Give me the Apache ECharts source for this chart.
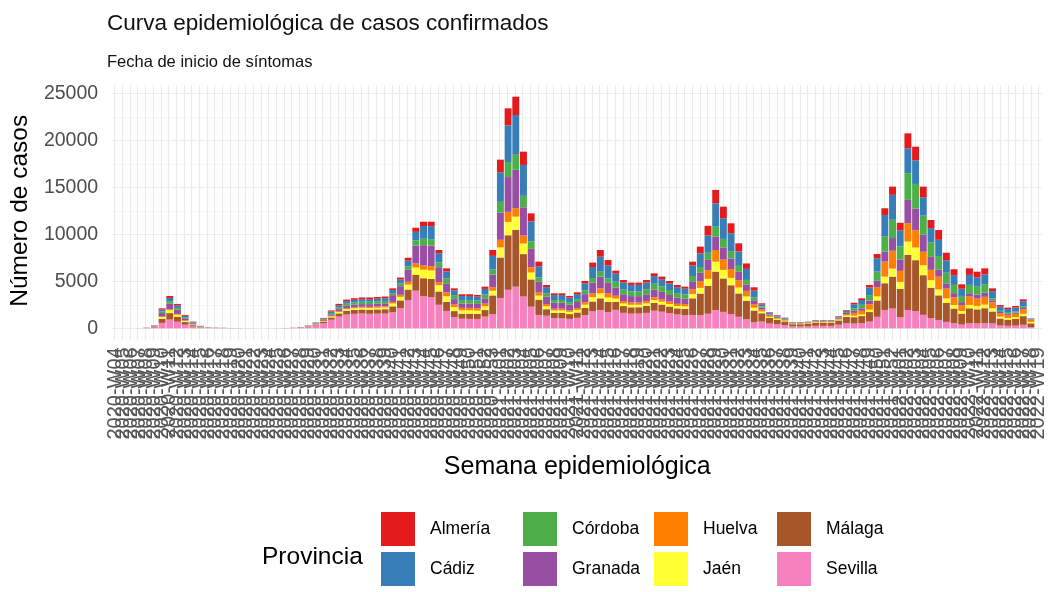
<!DOCTYPE html>
<html><head><meta charset="utf-8">
<script src="https://cdn.jsdelivr.net/npm/echarts@6/dist/echarts.min.js"></script>
<style>html,body{margin:0;padding:0;background:#fff}#chart{width:1051px;height:592px}</style>
</head><body><div id="chart"></div>
<script>
// Epidemiological weeks (categories)
const weeks = [
"2020-W04","2020-W05","2020-W06","2020-W07","2020-W08","2020-W09","2020-W10","2020-W11","2020-W12","2020-W13",
"2020-W14","2020-W15","2020-W16","2020-W17","2020-W18","2020-W19","2020-W20","2020-W21","2020-W22","2020-W23",
"2020-W24","2020-W25","2020-W26","2020-W27","2020-W28","2020-W29","2020-W30","2020-W31","2020-W32","2020-W33",
"2020-W34","2020-W35","2020-W36","2020-W37","2020-W38","2020-W39","2020-W40","2020-W41","2020-W42","2020-W43",
"2020-W44","2020-W45","2020-W46","2020-W47","2020-W48","2020-W49","2020-W50","2020-W51","2020-W52","2020-W53",
"2021-W01","2021-W02","2021-W03","2021-W04","2021-W05","2021-W06","2021-W07","2021-W08","2021-W09","2021-W10",
"2021-W11","2021-W12","2021-W13","2021-W14","2021-W15","2021-W16","2021-W17","2021-W18","2021-W19","2021-W20",
"2021-W21","2021-W22","2021-W23","2021-W24","2021-W25","2021-W26","2021-W27","2021-W28","2021-W29","2021-W30",
"2021-W31","2021-W32","2021-W33","2021-W34","2021-W35","2021-W36","2021-W37","2021-W38","2021-W39","2021-W40",
"2021-W41","2021-W42","2021-W43","2021-W44","2021-W45","2021-W46","2021-W47","2021-W48","2021-W49","2021-W50",
"2021-W51","2021-W52","2022-W01","2022-W02","2022-W03","2022-W04","2022-W05","2022-W06","2022-W07","2022-W08",
"2022-W09","2022-W10","2022-W11","2022-W12","2022-W13","2022-W14","2022-W15","2022-W16","2022-W17","2022-W18",
"2022-W19"];

const yTicks = [0, 5000, 10000, 15000, 20000, 25000];

const sevilla = [0,0,0,6,22,86,575,929,699,381,
192,70,30,22,16,11,8,6,5,3,
5,8,15,30,60,144,298,528,912,1248,
1464,1536,1574,1540,1560,1570,1700,2160,3000,4000,
3400,3300,2500,1850,1190,1014,1000,994,1240,1500,
3229,4100,4430,3382,2300,1420,1337,1079,1060,998,
1111,1410,1800,1950,1708,1962,1645,1555,1570,1640,
1872,1760,1610,1475,1380,1418,1400,1550,1950,1747,
1508,1220,960,640,720,510,425,339,201,195,
210,264,260,255,380,560,500,540,715,1225,
1950,2100,1180,1950,1835,1432,1094,889,683,534,
398,530,512,542,510,298,264,284,370,106,
0];
const malaga = [0,0,0,4,16,64,426,688,518,282,
142,52,22,16,12,8,6,4,3,2,
3,5,7,10,18,39,81,143,247,338,
397,416,426,440,450,460,638,810,1125,1700,
1930,1950,1416,960,638,543,560,532,700,2000,
4306,5800,6030,4510,2900,1630,692,558,570,516,
574,755,1050,1240,1091,858,720,680,670,730,
819,770,704,645,700,1773,2300,2950,4080,3559,
3072,2486,1950,1250,880,595,495,396,235,240,
245,308,315,320,460,660,680,760,1014,1738,
2840,3400,3000,5860,5410,4220,3226,2615,2010,1570,
1170,1600,1505,1595,1275,744,660,711,924,424,
0];
const jaen = [0,0,0,2,7,29,192,310,233,127,
64,23,10,7,5,4,3,2,1,1,
1,2,2,4,7,17,34,60,104,143,
168,176,180,185,183,190,298,378,525,770,
905,900,666,600,425,362,350,355,400,500,
1076,1420,1420,1127,740,430,323,260,265,241,
268,352,470,530,473,337,283,267,270,280,
322,303,277,254,250,461,600,760,1060,906,
782,633,480,305,190,119,99,79,47,47,
49,62,60,62,92,140,160,180,254,434,
710,850,760,1420,1352,1055,806,628,482,377,
281,355,361,383,340,198,176,190,246,159,
0];
const huelva = [0,0,0,1,2,10,64,103,78,42,
21,8,3,2,2,1,1,1,1,0,
1,1,2,3,5,10,22,39,67,91,
107,112,115,118,120,122,170,216,300,430,
455,460,333,420,298,253,260,249,290,375,
807,1070,900,846,560,330,230,186,190,172,
192,260,400,530,473,306,257,243,240,260,
293,275,251,231,240,496,700,920,1240,1100,
949,768,590,370,200,119,99,79,47,47,
49,62,60,62,92,150,300,380,576,988,
1600,1900,1170,1950,1835,1432,1094,1360,1045,816,
608,890,783,829,638,372,330,356,462,212,
0];
const granada = [0,0,0,3,14,54,362,585,440,240,
121,44,19,14,10,7,5,3,2,2,
2,3,4,7,12,26,53,93,161,221,
259,272,279,290,300,320,722,918,1275,1900,
2155,2180,1583,900,552,471,470,461,560,1333,
2870,3700,4080,3006,1950,1130,784,632,625,585,
651,855,1130,1240,1091,858,720,680,670,710,
819,770,704,645,600,851,900,1100,1420,1294,
1117,904,690,420,190,102,85,68,40,40,
42,53,55,52,80,120,220,270,392,671,
1060,1350,1200,2480,2318,1808,1382,732,563,440,
328,355,421,447,212,124,110,118,154,53,
0];
const cordoba = [0,0,0,2,6,26,170,275,207,113,
57,21,9,6,5,3,2,1,1,1,
1,2,3,5,10,22,46,82,142,195,
229,240,246,250,250,248,212,270,375,560,
680,690,500,560,425,362,360,355,420,541,
1166,1600,1600,1221,800,460,369,298,300,275,
306,400,500,530,473,644,540,510,520,540,
614,577,528,484,440,567,620,760,1060,906,
782,633,480,300,140,85,71,56,33,34,
35,44,45,44,66,110,280,370,576,988,
1600,1950,1400,2840,2608,2034,1555,1464,1126,879,
655,890,843,893,213,124,110,119,154,32,
0];
const cadiz = [0,0,0,1,8,32,213,344,259,141,
71,26,11,8,6,4,3,2,1,1,
1,2,4,6,11,26,53,94,162,221,
259,272,279,280,285,290,340,432,600,900,
1360,1390,1000,760,510,434,440,426,580,1458,
3140,3900,4230,3288,2120,1200,645,521,525,481,
536,735,1170,1600,1381,858,718,682,680,720,
819,770,705,645,600,1134,1450,1830,2490,2200,
1899,1537,1170,720,200,102,85,68,40,40,
42,52,50,50,88,130,420,510,829,1422,
2300,2650,1720,2640,2512,1959,1498,1726,1327,1036,
772,1060,993,1053,765,446,396,427,554,53,
0];
const almeria = [0,0,0,1,5,19,128,206,156,84,
42,16,6,5,4,2,2,1,1,0,
1,2,3,5,7,16,33,61,105,143,
167,176,181,177,182,180,170,216,300,440,
455,470,332,330,212,181,180,178,240,623,
1346,1810,1950,1410,860,490,230,186,185,172,
192,263,470,710,580,307,257,243,240,260,
292,275,251,231,220,390,720,1030,1420,1228,
1061,859,580,355,140,68,56,45,27,27,
28,35,35,35,52,80,160,180,254,434,
710,870,800,1600,1450,1130,865,1046,804,628,
468,700,602,638,297,174,154,165,216,21,
0];

// stacking order bottom -> top
const stackOrder = [
  {name:'Sevilla', data:sevilla, color:'#F781BF'},
  {name:'Málaga', data:malaga, color:'#A65628'},
  {name:'Jaén', data:jaen, color:'#FFFF33'},
  {name:'Huelva', data:huelva, color:'#FF7F00'},
  {name:'Granada', data:granada, color:'#984EA3'},
  {name:'Córdoba', data:cordoba, color:'#4DAF4A'},
  {name:'Cádiz', data:cadiz, color:'#377EB8'},
  {name:'Almería', data:almeria, color:'#E41A1C'}
];

const FONT = '"Liberation Sans", Arial, Helvetica, sans-serif';
const legendLayout = [
  ['Almería',381,512],['Cádiz',381,552],
  ['Córdoba',523,512],['Granada',523,552],
  ['Huelva',654,512],['Jaén',654,552],
  ['Málaga',777,512],['Sevilla',777,552]
];

const chart = echarts.init(document.getElementById('chart'), null, {renderer:'canvas'});
const option = {
  animation:false,
  backgroundColor:'#ffffff',
  textStyle:{fontFamily:FONT},
  title:[
    {text:'Curva epidemiológica de casos confirmados', left:107, top:12, padding:0,
     textStyle:{fontSize:22.5, fontWeight:'normal', color:'#111', fontFamily:FONT}},
    {text:'Fecha de inicio de síntomas', left:107, top:54, padding:0,
     textStyle:{fontSize:16.5, fontWeight:'normal', color:'#111', fontFamily:FONT}},
    {text:'Provincia', left:262, top:545, padding:0,
     textStyle:{fontSize:24.5, fontWeight:'normal', color:'#000', fontFamily:FONT}}
  ],
  legend: legendLayout.map(([n,l,t]) => ({
    data:[n], left:l, top:t, padding:0, itemWidth:34, itemHeight:34, icon:'rect',
    selectedMode:false,
    textStyle:{fontSize:17.5, color:'#000', fontFamily:FONT, padding:[0,0,0,10]}
  })),
  grid:[
    {left:110.75, top:93.3, width:931.7, height:235},
    {left:114.6, top:85, width:924, height:255}
  ],
  xAxis:[
    {type:'category', gridIndex:0, data:weeks,
     axisLine:{show:false}, axisTick:{show:false}, splitLine:{show:false},
     axisLabel:{rotate:90, interval:0, fontSize:20, color:'#555', margin:19, hideOverlap:false, fontFamily:FONT},
     name:'Semana epidemiológica', nameLocation:'middle', nameGap:126,
     nameTextStyle:{fontSize:25, color:'#000', fontFamily:FONT}},
    {type:'value', gridIndex:1, min:0, max:weeks.length-1, interval:1,
     axisLine:{show:false}, axisTick:{show:false}, axisLabel:{show:false},
     splitLine:{show:true, lineStyle:{color:'#EBEBEB', width:1.1}}}
  ],
  yAxis:[
    {type:'value', gridIndex:0, min:yTicks[0], max:yTicks[yTicks.length-1], interval:yTicks[1]-yTicks[0],
     axisLine:{show:false}, axisTick:{show:false},
     axisLabel:{fontSize:19.5, color:'#4D4D4D', margin:14, fontFamily:FONT, formatter:v => String(v)},
     splitLine:{show:true, lineStyle:{color:'#EBEBEB', width:1.1}},
     minorTick:{show:false, splitNumber:2},
     minorSplitLine:{show:true, lineStyle:{color:'#F3F3F3', width:0.7}},
     name:'Número de casos', nameLocation:'middle', nameRotate:90, nameGap:71,
     nameTextStyle:{fontSize:24.5, color:'#000', fontFamily:FONT}},
    {type:'value', gridIndex:1, show:false, min:0, max:1}
  ],
  series: stackOrder.map(s => ({
    name:s.name, type:'bar', stack:'total', xAxisIndex:0, yAxisIndex:0,
    data:s.data, barCategoryGap:'10%', itemStyle:{color:s.color},
    emphasis:{disabled:true}
  }))
};
chart.setOption(option);
</script>
</body></html>
